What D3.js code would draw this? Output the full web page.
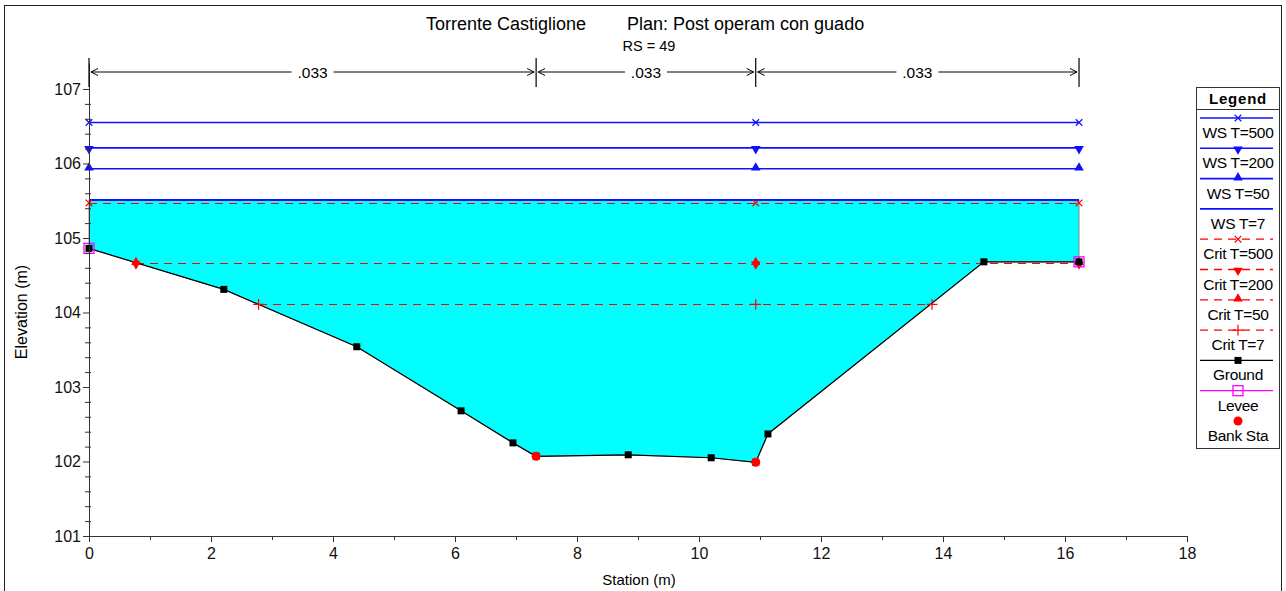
<!DOCTYPE html>
<html>
<head>
<meta charset="utf-8">
<script src="https://cdn.jsdelivr.net/npm/d3@7"></script>
<style>
  body { margin: 0; background: #fff; }
  svg { font-family: "Liberation Sans", Arial, sans-serif; }
</style>
</head>
<body>
<div id="chart"></div>
<script>
// ---- data ----
const groundSta  = [0, 2.21, 4.39, 6.10, 6.95, 7.33, 8.84, 10.20, 10.93, 11.13, 14.67, 16.23];
const groundElev = [104.86, 104.31, 103.54, 102.68, 102.25, 102.07, 102.09, 102.05, 101.99, 102.37, 104.68, 104.68];

const wsNames = ["WS T=500", "WS T=200", "WS T=50", "WS T=7"];
const wsElev  = [106.55, 106.21, 105.93, 105.51];
const wsMarkSta = [0, 10.93, 16.23];

const critNames = ["Crit T=500", "Crit T=200", "Crit T=50", "Crit T=7"];
const critElev  = [105.47, 104.66, 104.66, 104.11];
const critFrom  = [0, 0.77, 0.77, 2.78];
const critTo    = [16.23, 16.23, 16.23, 13.82];
const critMarkSta = [[0, 10.93, 16.23], [0.77, 10.93, 16.23], [0.77, 10.93, 16.23], [2.78, 10.93, 13.82]];

const leveeSta  = [0, 16.23];
const leveeElev = [104.86, 104.68];
const bankSta   = [7.33, 10.93];
const bankElev  = [102.07, 101.99];

const nBreaks = [0, 7.33, 10.93, 16.23];
const nValues = [".033", ".033", ".033"];

const xTicks = [0, 2, 4, 6, 8, 10, 12, 14, 16, 18];
const yTicks = [101, 102, 103, 104, 105, 106, 107];

// ---- layout ----
const W = 1286, H = 591;
const svg = d3.select("#chart").append("svg").attr("width", W).attr("height", H);

const x = d3.scaleLinear().domain([0, 18]).range([89, 1187]);
const y = d3.scaleLinear().domain([101, 107.35]).range([536, 62.9]);

const blue = "#1010ff", red = "#ff0000";

// outer frame
svg.append("rect").attr("x", 4.5).attr("y", 5.5).attr("width", 1277).attr("height", 600)
  .attr("fill", "none").attr("stroke", "#222").attr("stroke-width", 1);

// titles
svg.append("text").attr("x", 586).attr("y", 30).attr("text-anchor", "end")
  .attr("font-size", 18).text("Torrente Castiglione");
svg.append("text").attr("x", 627).attr("y", 30).attr("text-anchor", "start")
  .attr("font-size", 18).text("Plan: Post operam con guado");
svg.append("text").attr("x", 649).attr("y", 51).attr("text-anchor", "middle")
  .attr("font-size", 14.5).text("RS = 49");

// water fill (WS T=7 over the ground)
const wsLow = wsElev[3];
const ground = groundSta.map((s, i) => ({ s: s, e: groundElev[i] }));
svg.append("path").datum(ground)
  .attr("d", d3.area().x(d => x(d.s)).y0(y(wsLow)).y1(d => y(d.e)))
  .attr("fill", "#00ffff").attr("stroke", "#888").attr("stroke-width", 1);

// symbol helpers
function sym(type, size) { return d3.symbol().type(type).size(size)(); }
function drawMark(g, kind, px, py, color) {
  if (kind === "x") {
    g.append("path").attr("d", sym(d3.symbolTimes, 30)).attr("transform", `translate(${px},${py})`)
      .attr("fill", "none").attr("stroke", color).attr("stroke-width", 1.2);
  } else if (kind === "+") {
    g.append("path").attr("d", sym(d3.symbolPlus, 40)).attr("transform", `translate(${px},${py})`)
      .attr("fill", "none").attr("stroke", color).attr("stroke-width", 1.2);
  } else if (kind === "down") {
    g.append("path").attr("d", sym(d3.symbolTriangle, 40)).attr("transform", `translate(${px},${py + 1}) rotate(180)`)
      .attr("fill", color);
  } else if (kind === "up") {
    g.append("path").attr("d", sym(d3.symbolTriangle, 40)).attr("transform", `translate(${px},${py - 1})`)
      .attr("fill", color);
  } else if (kind === "square") {
    g.append("rect").attr("x", px - 3.5).attr("y", py - 3.5).attr("width", 7).attr("height", 7).attr("fill", "#000");
  } else if (kind === "levee") {
    g.append("rect").attr("x", px - 5).attr("y", py - 5).attr("width", 10).attr("height", 10)
      .attr("fill", "none").attr("stroke", "#ff00ff").attr("stroke-width", 1.3);
  } else if (kind === "bank") {
    g.append("circle").attr("cx", px).attr("cy", py).attr("r", 4.5).attr("fill", red);
  }
}

const wsMarks = ["x", "down", "up", null];
const critMarks = ["x", "down", "up", "+"];

// crit lines
const lines = svg.append("g");
critElev.forEach((e, i) => {
  const py = Math.round(y(e)) + 0.5;
  lines.append("line").attr("x1", x(critFrom[i])).attr("x2", x(critTo[i]))
    .attr("y1", py).attr("y2", py)
    .attr("stroke", red).attr("stroke-width", 1).attr("stroke-dasharray", "8,6")
    .attr("shape-rendering", "crispEdges");
});

// ground line
lines.append("path").datum(ground)
  .attr("d", d3.line().x(d => x(d.s)).y(d => y(d.e)))
  .attr("fill", "none").attr("stroke", "#000").attr("stroke-width", 1.2);

// WS lines
wsElev.forEach((e, i) => {
  lines.append("line").attr("x1", x(0)).attr("x2", x(16.23))
    .attr("y1", y(e)).attr("y2", y(e))
    .attr("stroke", blue).attr("stroke-width", i === 3 ? 2 : 1.6);
});

// markers
const marks = svg.append("g");
wsElev.forEach((e, i) => {
  if (!wsMarks[i]) return;
  wsMarkSta.forEach(s => drawMark(marks, wsMarks[i], x(s), y(e), blue));
});
critElev.forEach((e, i) => {
  critMarkSta[i].forEach(s => drawMark(marks, critMarks[i], x(s), y(e), red));
});
leveeSta.forEach((s, i) => drawMark(marks, "levee", x(s), y(leveeElev[i])));
ground.forEach(d => drawMark(marks, "square", x(d.s), y(d.e)));
bankSta.forEach((s, i) => drawMark(marks, "bank", x(s), y(bankElev[i])));

// axes
const axisColor = "#333";
const gx = svg.append("g").attr("transform", `translate(0,${y(101)})`)
  .call(d3.axisBottom(x).tickValues(xTicks).tickSize(6).tickSizeOuter(0).tickFormat(d3.format("d")));
svg.append("g").attr("transform", `translate(0,${y(101)})`)
  .call(d3.axisBottom(x).tickValues(d3.range(1, 18, 2)).tickSize(4).tickFormat(""))
  .select(".domain").remove();
const gy = svg.append("g").attr("transform", `translate(${x(0)},0)`)
  .call(d3.axisLeft(y).tickValues(yTicks).tickSize(6).tickSizeOuter(0).tickFormat(d3.format("d")));
svg.append("g").attr("transform", `translate(${x(0)},0)`)
  .call(d3.axisLeft(y).tickValues(d3.range(101.2, 107, 0.2).filter(v => Math.abs(v - Math.round(v)) > 0.01)).tickSize(4).tickFormat(""))
  .call(g => g.select(".domain").remove())
  .selectAll("line").attr("x2", -4).attr("x1", 2);
svg.selectAll(".domain, .tick line").attr("stroke", axisColor);
gx.selectAll("text").attr("font-size", 16).attr("fill", "#111").attr("dy", "0.85em");
gy.selectAll("text").attr("font-size", 16).attr("fill", "#111").attr("x", -8);
svg.selectAll(".tick text").style("font-family", "'Liberation Sans', Arial, sans-serif");

svg.append("text").attr("x", 639).attr("y", 585).attr("text-anchor", "middle")
  .attr("font-size", 15).text("Station (m)");
svg.append("text").attr("transform", "translate(27,312) rotate(-90)").attr("text-anchor", "middle")
  .attr("font-size", 16).text("Elevation (m)");

// Manning's n annotation
const nY = 72;
const ann = svg.append("g");
nBreaks.forEach(s => {
  ann.append("line").attr("x1", x(s)).attr("x2", x(s)).attr("y1", 58).attr("y2", 87)
    .attr("stroke", "#000").attr("stroke-width", 1.2);
});
nValues.forEach((v, i) => {
  const a = x(nBreaks[i]) + 2, b = x(nBreaks[i + 1]) - 2, m = (a + b) / 2;
  ann.append("line").attr("x1", a).attr("x2", b).attr("y1", nY).attr("y2", nY).attr("stroke", "#000");
  ann.append("path").attr("d", `M${a + 7},${nY - 3.5} L${a},${nY} L${a + 7},${nY + 3.5}`).attr("fill", "none").attr("stroke", "#000");
  ann.append("path").attr("d", `M${b - 7},${nY - 3.5} L${b},${nY} L${b - 7},${nY + 3.5}`).attr("fill", "none").attr("stroke", "#000");
  ann.append("rect").attr("x", m - 21).attr("y", nY - 9).attr("width", 42).attr("height", 18).attr("fill", "#fff");
  ann.append("text").attr("x", m).attr("y", nY + 6).attr("text-anchor", "middle").attr("font-size", 15.5).text(v);
});

// legend
const leg = svg.append("g");
leg.append("rect").attr("x", 1196.5).attr("y", 87.5).attr("width", 83).attr("height", 361)
  .attr("fill", "#fff").attr("stroke", "#333");
leg.append("line").attr("x1", 1196).attr("x2", 1280).attr("y1", 109.5).attr("y2", 109.5).attr("stroke", "#333");
leg.append("text").attr("x", 1238).attr("y", 104).attr("text-anchor", "middle")
  .attr("font-size", 15).attr("font-weight", "bold").attr("letter-spacing", 0.8).text("Legend");

const legNames = wsNames.concat(critNames, ["Ground", "Levee", "Bank Sta"]);
const legColor = [blue, blue, blue, blue, red, red, red, red, "#000", "#ff00ff", null];
const legDash  = [null, null, null, null, "8,6", "8,6", "8,6", "8,6", null, null, null];
const legMark  = wsMarks.concat(critMarks, ["square", "levee", "bank"]);
legNames.forEach((name, i) => {
  const ly = 118 + i * 30.3;
  if (legColor[i]) {
    leg.append("line").attr("x1", 1200).attr("x2", 1273).attr("y1", ly).attr("y2", ly)
      .attr("stroke", legColor[i]).attr("stroke-width", i < 4 ? 1.6 : 1.3)
      .attr("stroke-dasharray", legDash[i]);
  }
  if (legMark[i]) drawMark(leg, legMark[i], 1238, ly, legColor[i] || red);
  leg.append("text").attr("x", 1238).attr("y", ly + 20).attr("text-anchor", "middle")
    .attr("font-size", 15.5).attr("letter-spacing", -0.3).text(name);
});
</script>
</body>
</html>
